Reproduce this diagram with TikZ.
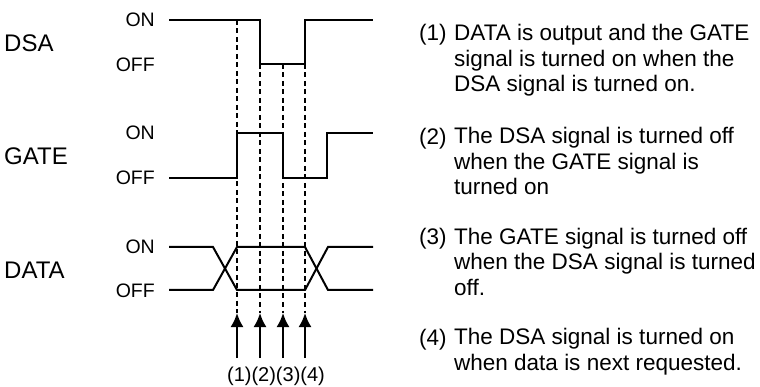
\documentclass[tikz,border=0pt]{standalone}
\usepackage{fontspec}
\setmainfont{Liberation Sans}
\usetikzlibrary{arrows.meta}

\tikzset{
  sig/.style={line width=2pt, line join=miter},
  guide/.style={line width=1.8pt, dash pattern=on 5pt off 3.5pt},
  level/.style={anchor=east, inner sep=0pt, font=\fontsize{19.5}{20}\selectfont},
  signame/.style={anchor=west, inner sep=0pt, font=\fontsize{24}{26}\selectfont},
  note/.style={anchor=base west, inner sep=0pt, align=left, font=\fontsize{22.5}{25.5}\selectfont},
}

\begin{document}
\begin{tikzpicture}[>={Latex[length=14pt,width=13pt]}, x=1pt, y=-1pt]
\useasboundingbox (0,0) rectangle (760,387);
% signal names
\node[signame] (dsa) at (4,43) {DSA};
\node[signame] (gate) at (4,156) {GATE};
\node[signame] (data) at (4,270) {DATA};
% levels
\node[level] (dsaon) at (155,20) {ON};
\node[level] (dsaoff) at (155,65) {OFF};
\node[level] (gateon) at (155,133) {ON};
\node[level] (gateoff) at (155,178) {OFF};
\node[level] (dataon) at (155,247) {ON};
\node[level] (dataoff) at (155,291) {OFF};
% DSA
\draw[sig] (169,20) -- (260,20) -- (260,64) -- (305,64) -- (305,20) -- (373,20);
% GATE
\draw[sig] (169,178) -- (237,178) -- (237,133) -- (283,133) -- (283,178) -- (327,178) -- (327,133) -- (373,133);
% DATA
\draw[sig] (169,247) -- (213,247) -- (237,290) -- (305,290) -- (328,247) -- (373,247);
\draw[sig] (169,290) -- (213,290) -- (237,247) -- (305,247) -- (328,290) -- (373,290);
% timing points
\foreach \x/\top [count=\i] in {237/20,260/64,283/64,305/64} {
  \coordinate (g\i) at (\x,\top);
  \coordinate (tip\i) at (\x,313);
  \coordinate (tail\i) at (\x,358);
  \draw[guide] (g\i) -- (tip\i);
  \draw[->, line width=2pt] (tail\i) -- (tip\i);
}
\node[font=\fontsize{20}{22}\selectfont, inner sep=0pt] (steps) at (276,376.5) {(1)(2)(3)(4)};
% notes (base = last line)
\node[note] (n1) at (419,41) {(1)};
\node[note] (t1) at (454,92) {DATA is output and the GATE\\ signal is turned on when the\\ DSA signal is turned on.};
\node[note] (n2) at (419,145) {(2)};
\node[note] (t2) at (454,195) {The DSA signal is turned off\\ when the GATE signal is\\ turned on};
\node[note] (n3) at (419,245) {(3)};
\node[note] (t3) at (454,295) {The GATE signal is turned off\\ when the DSA signal is turned\\ off.};
\node[note] (n4) at (419,345) {(4)};
\node[note] (t4) at (454,370) {The DSA signal is turned on\\ when data is next requested.};
\end{tikzpicture}
\end{document}
